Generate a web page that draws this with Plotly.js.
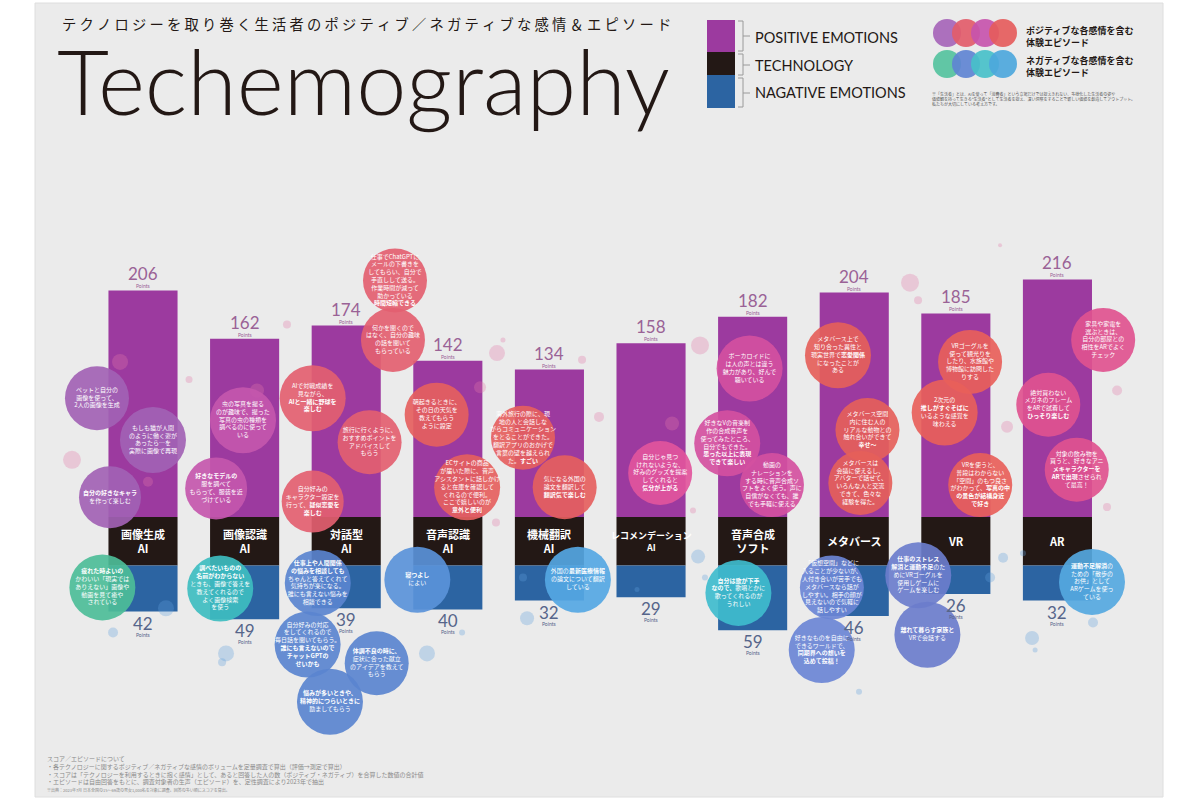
<!DOCTYPE html>
<html><head><meta charset="utf-8">
<script src="https://cdn.plot.ly/plotly-3.0.1.min.js"></script>
<style>html,body{margin:0;padding:0;background:#fff}</style>
</head><body><div id="chart" style="width:1200px;height:800px"></div>
<script>
// ---------- DATA ----------
const categories = ["画像生成<br>AI","画像認識<br>AI","対話型<br>AI","音声認識<br>AI","機械翻訳<br>AI","レコメンデーション<br>AI","音声合成<br>ソフト","メタバース","VR","AR"];
const positiveScores = [206,162,174,142,134,158,182,204,185,216];
const negativeScores = [42,49,39,40,32,29,59,46,26,32];

// episode bubbles (x = category slot position, y = score axis position)
const episodeX = [-0.453,0.098,-0.325,-0.40, 0.984,0.72,0.76, 2.48,2.46,1.67,2.23,1.67,1.72,1.62,2.30,1.84, 2.89,3.19,2.70, 3.74,4.15,4.28, 5.09, 5.97,5.75,6.19,5.86, 6.84,7.13,7.06,6.78,6.68, 8.14,7.89,8.24,7.63,7.72, 9.45,8.91,9.19,9.34];
const episodeY = [108,70,18,-64, 88,26,-65, 215,161,108,68,14,-60,-116,-133,-168, 93,27,-57, 72,27,-57, 40, 135,67,29,-69, 147,79,31,-64,-121, 141,95,29,-53,-107, 161,102,43,-59];
const episodeText = [
"ペットと自分の<br>画像を使って、<br>2人の画像を生成",
"もしも猫が人間<br>のように働く姿が<br>あったら…を<br>実際に画像で再現",
"<b>自分の好きなキャラ</b><br>を作って楽しむ",
"<b>疲れた時よいの</b><br>かわいい「現実では<br>ありえない」画像や<br>動画を見て癒や<br>されている",
"虫の写真を撮る<br>のが趣味で、撮った<br>写真の虫の種類を<br>調べるのに使って<br>いる",
"<b>好きなモデルの</b><br>服を調べて<br>もらって、服装を近<br>づけている",
"<b>調べたいものの</b><br><b>名前がわからない</b><br>ときも、画像で答えを<br>教えてくれるので<br>よく画像検索<br>を使う",
"仕事でChatGPTに<br>メールの下書きを<br>してもらい、自分で<br>手直しして送る。<br>作業時間が減って<br>助かっている<br><b>時間短縮できる</b>",
"何かを聞くので<br>はなく、自分の趣味<br>の話を聞いて<br>もらっている",
"AIで対戦成績を<br>見ながら、<br><b>AIと一緒に野球を</b><br><b>楽しむ</b>",
"旅行に行くように、<br>おすすめポイントを<br>アドバイスして<br>もらう",
"自分好みの<br>キャラクター設定を<br>行って、<b>疑似恋愛を</b><br><b>楽しむ</b>",
"<b>仕事上や人間関係</b><br><b>の悩みを相談しても</b><br>ちゃんと答えてくれて<br>気持ちが楽になる。<br>誰にも言えない悩みを<br>相談できる",
"自分好みの対応<br>をしてくれるので<br>毎日話を聞いてもらう。<br><b>誰にも言えないので</b><br><b>チャットGPTの</b><br><b>せいかも</b>",
"<b>体調不良の時に、</b><br>症状に合った献立<br>のアイデアを教えて<br>もらう",
"<b>悩みが多いときや、</b><br><b>精神的につらいときに</b><br>励ましてもらう",
"朝起きるときに、<br>その日の天気を<br>教えてもらう<br>ように設定",
"ECサイトの商品<br>が届いた際に、音声<br>アシスタントに話しかけ<br>ると在庫を確認して<br>くれるので便利。<br>ここで嬉しいのが<br><b>意外と便利</b>",
"<b>寝つよし</b><br>によい",
"海外旅行の際に、現<br>地の人と会話しな<br>がらコミュニケーション<br>をとることができた。<br>翻訳アプリのおかげで<br>言葉の壁を越えられ<br>た。<b>すごい</b>",
"気になる外国の<br>論文を翻訳して<br><b>翻訳気で楽しむ</b>",
"外国の<b>最新医療情報</b><br>の論文について翻訳<br>している",
"自分じゃ見つ<br>けれないような、<br>好みのグッズを提案<br>してくれると<br><b>気分が上がる</b>",
"ボーカロイドに<br>は人の声とは違う<br>魅力があり、好んで<br>聴いている",
"好きなVの音楽制<br>作の合成音声を<br>使ってみたところ、<br>自分でもできた。<br><b>思った以上に表現</b><br><b>できて楽しい</b>",
"動画の<br>ナレーションを<br>する時に音声合成ソ<br>フトをよく使う。声に<br>自信がなくても、誰<br>でも手軽に使える",
"<b>自分は歌が下手</b><br><b>なので、</b>歌唱とかに<br>歌ってくれるのが<br>うれしい",
"メタバース上で<br>知り合った異性と<br>現実世界で<b>恋愛関係</b><br>になったことが<br>ある",
"メタバース空間<br>内に住む人の<br>リアルな動物との<br>触れ合いができて<br><b>幸せ〜</b>",
"メタバースは<br>会議に使えるし、<br>アバターで話せて、<br>いろんな人と交流<br>できて、色々な<br>経験を得た。",
"「仮想空間」などに<br>入ることが少ないが、<br>人付き合いが苦手でも<br>メタバースなら話が<br>しやすい。相手の顔が<br>見えないので気軽に<br>話しやすい",
"好きなものを自由に<br>できるワールドで、<br><b>同期界への想いを</b><br><b>込めて投稿！</b>",
"VRゴーグルを<br>使って観光りを<br>したり、水族館や<br>博物館に訪問した<br>りする",
"2次元の<br><b>推しがすぐそばに</b><br>いるような感覚を<br>味わえる",
"VRを使うと、<br>普段はわからない<br>「空間」のもつ良さ<br>がわかって、<b>写真の中</b><br><b>の景色が結構身近</b><br><b>で好き</b>",
"<b>仕事のストレス</b><br><b>解消と運動不足</b>のた<br>めにVRゴーグルを<br>使用しゲームに<br>ゲームを楽しむ",
"<b>離れて暮らす家族と</b><br>VRで会話する",
"家具や家電を<br>選ぶときは、<br>自分の部屋との<br>相性をARでよく<br>チェック",
"絶対買わない<br>メガネのフレーム<br>をARで試着して<br><b>ひっそり楽しむ</b>",
"対象の飲み物を<br>買うと、好きなアニ<br><b>メキャラクターを</b><br><b>ARで出現</b>させられ<br>て最高！",
"<b>運動不足解消</b>の<br>ための「散歩の<br>お供」として<br>ARゲームを使っ<br>ている"
];
const episodeColor = [
"#a262b4","#a262b4","#a262b4","#4dbd98",
"#c457ad","#c457ad","#3ebdc0",
"#e35f70","#e35f70","#e35f70","#e35f70","#e35f70","#5a84cf","#5a84cf","#5a84cf","#5a84cf",
"#e5605e","#e5605e","#5a92d9",
"#e5605e","#e5605e","#55a7e3",
"#e2559c",
"#d4509f","#d4509f","#d4509f","#3fbccd",
"#e55f5a","#e55f5a","#e55f5a","#6b86d5","#6b86d5",
"#e8605a","#e8605a","#e8605a","#6b7dcc","#6b7dcc",
"#e0528f","#e0528f","#e0528f","#55a8df"];
const episodeSize = [64,66,62,66, 66,62,66, 64,64,66,64,62,66,66,64,66, 64,66,66, 64,64,66, 64, 66,66,64,66, 66,64,64,64,66, 64,66,64,66,66, 64,64,64,66];

// small decorative dots
const dotPosX = [-0.226,0.453,-0.699,0.049,1.122,1.417,3.484,3.543,4.321,4.488,3.317,5.207,5.482,5.413,3.474,7.549,7.628,8.504,9.587,9.488,8.435];
const dotPosY = [141,125,52,32,115,175,149,161,143,91,118,85,156,6,-5,213,197,82,115,9,247];
const dotPosSize = [16,7,18,10,14,8,16,5,8,10,12,14,18,6,8,18,8,12,10,8,4];
const dotNegX = [-0.295,0.226,0.817,0.778,2.795,3.780,3.140,5.463,5.531,3.740,4.862,8.465,8.661,8.750,8.780,9.350,7.047,8.337];
const dotNegY = [-105,-83,-124,-132,-124,-92,-105,-36,-55,-55,-66,-37,-33,-110,-121,-96,-159,-55];
const dotNegSize = [10,16,16,8,16,14,6,14,6,8,5,10,6,14,5,10,6,10];

// ---------- LAYOUT CONSTANTS ----------
const TECH_BAND = 44;          // height of the black technology band (score units)
const W = 1200, H = 800;
const jp = '"Noto Sans CJK JP", "Noto Sans", sans-serif';
const px = v => v / W, py = v => 1 - v / H;

const idx = categories.map((_, i) => i);

const traces = [
  {type:'bar', x: idx, y: positiveScores, base: 0, width: 0.68,
   marker:{color:'#9c3a9f'}, hoverinfo:'skip'},
  {type:'bar', x: idx, y: idx.map(() => TECH_BAND), base: idx.map(() => -TECH_BAND), width: 0.68,
   marker:{color:'#231815'}, hoverinfo:'skip'},
  {type:'bar', x: idx, y: negativeScores.map(v => -v), base: idx.map(() => -TECH_BAND), width: 0.68,
   marker:{color:'#2c64a2'}, hoverinfo:'skip'},
  {type:'scatter', mode:'markers', x: dotPosX, y: dotPosY,
   marker:{size: dotPosSize, color:'rgba(226,120,170,0.45)', line:{width:0}}, hoverinfo:'skip'},
  {type:'scatter', mode:'markers', x: dotNegX, y: dotNegY,
   marker:{size: dotNegSize, color:'rgba(95,160,220,0.45)', line:{width:0}}, hoverinfo:'skip'},
  {type:'scatter', mode:'markers+text', x: episodeX, y: episodeY, text: episodeText,
   textposition:'middle center', textfont:{family: jp, size:6, color:'#ffffff'},
   marker:{size: episodeSize, color: episodeColor, opacity:0.92, line:{width:0}}, hoverinfo:'skip'}
];

const annotations = [];
idx.forEach(i => {
  annotations.push({x:i, y:positiveScores[i], xref:'x', yref:'y', yanchor:'bottom', yshift:4, showarrow:false,
    text: String(positiveScores[i]), font:{family:'Lato, sans-serif', size:17, color:'#9a6296'}});
  annotations.push({x:i, y:positiveScores[i], xref:'x', yref:'y', yanchor:'bottom', yshift:-1, showarrow:false,
    text:'Points', font:{family:'Lato, sans-serif', size:5, color:'#9a6296'}});
  annotations.push({x:i, y:-TECH_BAND - negativeScores[i], xref:'x', yref:'y', yanchor:'top', yshift:1, showarrow:false,
    text: String(negativeScores[i]), font:{family:'Lato, sans-serif', size:17, color:'#56658a'}});
  annotations.push({x:i, y:-TECH_BAND - negativeScores[i], xref:'x', yref:'y', yanchor:'top', yshift:-18, showarrow:false,
    text:'Points', font:{family:'Lato, sans-serif', size:5, color:'#56658a'}});
  annotations.push({x:i, y:-TECH_BAND/2, xref:'x', yref:'y', showarrow:false,
    text: '<b>' + categories[i] + '</b>',
    font:{family: jp, size: categories[i].length > 14 ? 9 : 11, color:'#ffffff'}});
});

// titles
annotations.push({xref:'paper', yref:'paper', x:px(60), y:py(23), xanchor:'left', yanchor:'middle', showarrow:false,
  text:'テ ク ノ ロ ジ ー を 取 り 巻 く 生 活 者 の ポ ジ テ ィ ブ ／ ネ ガ テ ィ ブ な 感 情 ＆ エ ピ ソ ー ド',
  font:{family: jp, size:14.3, color:'#231815'}});
annotations.push({xref:'paper', yref:'paper', x:px(55), y:py(80), xanchor:'left', yanchor:'middle', showarrow:false,
  text:'Techemography', font:{family:'Lato, sans-serif', size:90, weight:300, color:'#231815'}});

// legend texts
[['POSITIVE EMOTIONS',37],['TECHNOLOGY',65],['NAGATIVE EMOTIONS',93]].forEach(([t,y]) => {
  annotations.push({xref:'paper', yref:'paper', x:px(753), y:py(y), xanchor:'left', yanchor:'middle', showarrow:false,
    text:t, font:{family:'Lato, sans-serif', size:14.5, color:'#231815'}});
});
annotations.push({xref:'paper', yref:'paper', x:px(1024), y:py(36), xanchor:'left', yanchor:'middle', showarrow:false, align:'left',
  text:'<b>ポジティブな各感情を含む<br>体験エピソード</b>', font:{family: jp, size:9, color:'#231815'}});
annotations.push({xref:'paper', yref:'paper', x:px(1024), y:py(66), xanchor:'left', yanchor:'middle', showarrow:false, align:'left',
  text:'<b>ネガティブな各感情を含む<br>体験エピソード</b>', font:{family: jp, size:9, color:'#231815'}});
annotations.push({xref:'paper', yref:'paper', x:px(930), y:py(99), xanchor:'left', yanchor:'middle', showarrow:false, align:'left',
  text:'※「生活者」とは、AIを使って「消費者」という立場だけでは捉えきれない、多様化した生活者の姿や<br>価値観を持って生きる"生活者"として生活者を捉え、深い洞察をすることで新しい価値を創造してアウトプット。<br>私たちが大切にしている考え方です。',
  font:{family: jp, size:4, color:'#555'}});

// footer
annotations.push({xref:'paper', yref:'paper', x:px(45), y:py(773), xanchor:'left', yanchor:'middle', showarrow:false, align:'left',
  text:'スコア／エピソードについて<br>・各テクノロジーに関するポジティブ／ネガティブな感情のボリュームを定量調査で算出（評価→測定で算出）<br>・スコアは「テクノロジーを利用するときに抱く感情」として、あると回答した人の数（ポジティブ・ネガティブ）を合算した数値の合計値<br>・エピソードは自由回答をもとに、調査対象者の生声（エピソード）を、定性調査により2023年で抽出<br><span style="font-size:4px">※出典：2023年7月 日本全国の15〜69歳の男女1,000名を対象に調査。回答の多い順にスコアを算出。</span>',
  font:{family: jp, size:6, color:'#8a8a8a'}});

// shapes
const shapes = [
  {type:'rect', xref:'paper', yref:'paper', x0:px(35), x1:px(1163), y0:py(797), y1:py(3), fillcolor:'#ebebeb', line:{color:'#dedede', width:1}, layer:'below'},
  {type:'rect', xref:'paper', yref:'paper', x0:px(707), x1:px(735), y0:py(52), y1:py(20), fillcolor:'#9c3a9f', line:{width:0}},
  {type:'rect', xref:'paper', yref:'paper', x0:px(707), x1:px(735), y0:py(75), y1:py(52), fillcolor:'#231815', line:{width:0}},
  {type:'rect', xref:'paper', yref:'paper', x0:px(707), x1:px(735), y0:py(108), y1:py(75), fillcolor:'#2c64a2', line:{width:0}}
];
[[21,51,36],[54,75,65],[78,107,93]].forEach(([a,b,m]) => {
  shapes.push({type:'path', xref:'paper', yref:'paper',
    path:`M${px(738)},${py(a)} L${px(743)},${py(a)} L${px(743)},${py(b)} L${px(738)},${py(b)} M${px(743)},${py(m)} L${px(750)},${py(m)}`,
    line:{color:'#9a9a9a', width:1}});
});
const legPos = ['#a665b8','#e25c6a','#c754ad','#e55c5c'];
const legNeg = ['#55c29e','#5f84d2','#48c0c9','#4da7dc'];
const legCx = [947,966,985,1003];
[[legPos,33],[legNeg,64]].forEach(([cols,cy]) => {
  cols.forEach((c,k) => {
    shapes.push({type:'circle', xref:'paper', yref:'paper', x0:px(legCx[k]-14), x1:px(legCx[k]+14), y0:py(cy+14), y1:py(cy-14),
      fillcolor:c, opacity:0.92, line:{width:0}});
  });
});

const layout = {
  width: W, height: H,
  margin:{l:0, r:0, t:0, b:0},
  paper_bgcolor:'#ffffff', plot_bgcolor:'rgba(0,0,0,0)',
  showlegend:false, barmode:'overlay',
  xaxis:{range:[-1.4075, 10.403], visible:false, fixedrange:true},
  yaxis:{range:[-257.3, 470], visible:false, fixedrange:true},
  annotations, shapes,
  font:{family: jp}
};

Plotly.newPlot('chart', traces, layout, {displayModeBar:false, staticPlot:true});
</script></body></html>
